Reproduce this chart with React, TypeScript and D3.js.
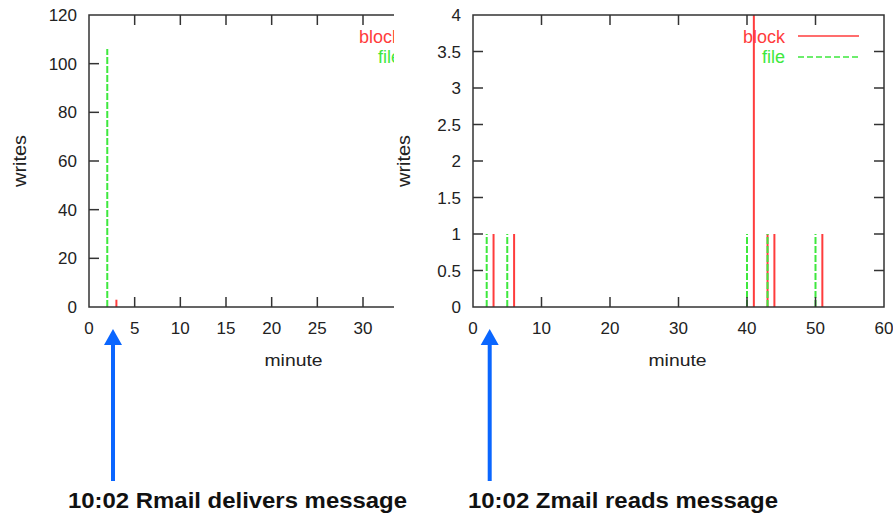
import React from "react";
import * as d3 from "d3";

// Rmail chart (left)
const rmailFile = [{ minute: 2, writes: 106 }];
const rmailBlock = [{ minute: 3, writes: 3 }];
const rmailXTicks = [0, 5, 10, 15, 20, 25, 30, 35, 40, 45];
const rmailYTicks = [0, 20, 40, 60, 80, 100, 120];

// Zmail chart (right)
const zmailFile = [
  { minute: 2, writes: 1 },
  { minute: 5, writes: 1 },
  { minute: 40, writes: 1 },
  { minute: 43, writes: 1 },
  { minute: 50, writes: 1 },
];
const zmailBlock = [
  { minute: 3, writes: 1 },
  { minute: 6, writes: 1 },
  { minute: 41, writes: 4 },
  { minute: 43, writes: 1 },
  { minute: 44, writes: 1 },
  { minute: 51, writes: 1 },
];
const zmailXTicks = [0, 10, 20, 30, 40, 50, 60];
const zmailYTicks = [0, 0.5, 1, 1.5, 2, 2.5, 3, 3.5, 4];

const captions = ["10:02 Rmail delivers message", "10:02 Zmail reads message"];

type Pt = { minute: number; writes: number };

const RED = "#ff3c3c";
const GREEN = "#3ee83e";
const AXIS = "#333";
const FONT = "'Liberation Sans', Arial, sans-serif";

function Plot({
  left,
  id,
  clipRight,
  xMax,
  yMax,
  xTicks,
  yTicks,
  file,
  block,
  arrowMinute,
  caption,
  captionX,
  captionWidth,
}: {
  left: number;
  id: string;
  clipRight: number;
  xMax: number;
  yMax: number;
  xTicks: number[];
  yTicks: number[];
  file: Pt[];
  block: Pt[];
  arrowMinute: number;
  caption: string;
  captionX: number;
  captionWidth: number;
}) {
  const top = 15;
  const bottom = 307;
  const w = 411;
  const x = d3.scaleLinear().domain([0, xMax]).range([left, left + w]);
  const y = d3.scaleLinear().domain([0, yMax]).range([bottom, top]);
  const tick = 10;
  const legendX = left + w - 99;
  const arrowX = x(arrowMinute) + 3;

  return (
    <g>
      <defs>
        <clipPath id={id}>
          <rect x={0} y={0} width={clipRight} height={380} />
        </clipPath>
      </defs>
      <g clipPath={`url(#${id})`}>
        {/* impulses */}
        {block.map((d, i) => (
          <line
            key={`b${i}`}
            x1={x(d.minute)}
            x2={x(d.minute)}
            y1={y(0)}
            y2={y(d.writes)}
            stroke={RED}
            strokeWidth={2}
          />
        ))}
        {file.map((d, i) => (
          <line
            key={`f${i}`}
            x1={x(d.minute)}
            x2={x(d.minute)}
            y1={y(0)}
            y2={y(d.writes)}
            stroke={GREEN}
            strokeWidth={2}
            strokeDasharray="7,2"
          />
        ))}

        {/* frame */}
        <rect
          x={left}
          y={top}
          width={w}
          height={bottom - top}
          fill="none"
          stroke={AXIS}
          strokeWidth={1.5}
        />

        {/* x ticks */}
        {xTicks.map((t) => (
          <g key={`x${t}`}>
            {t > 0 && t < xMax && (
              <>
                <line x1={x(t)} x2={x(t)} y1={bottom} y2={bottom - tick} stroke={AXIS} strokeWidth={1.5} />
                <line x1={x(t)} x2={x(t)} y1={top} y2={top + tick} stroke={AXIS} strokeWidth={1.5} />
              </>
            )}
            <text
              x={x(t)}
              y={334}
              textAnchor="middle"
              fontSize={17}
              fontFamily={FONT}
              fill="#222"
            >
              {t}
            </text>
          </g>
        ))}

        {/* y ticks */}
        {yTicks.map((t) => (
          <g key={`y${t}`}>
            {t > 0 && t < yMax && (
              <>
                <line x1={left} x2={left + tick} y1={y(t)} y2={y(t)} stroke={AXIS} strokeWidth={1.5} />
                <line x1={left + w} x2={left + w - tick} y1={y(t)} y2={y(t)} stroke={AXIS} strokeWidth={1.5} />
              </>
            )}
          </g>
        ))}

        {/* legend */}
        <text x={legendX} y={43} textAnchor="end" fontSize={18} fontFamily={FONT} fill={RED}>
          block
        </text>
        <line x1={legendX + 13} x2={legendX + 74} y1={36} y2={36} stroke={RED} strokeWidth={1.5} />
        <text x={legendX} y={63} textAnchor="end" fontSize={18} fontFamily={FONT} fill={GREEN}>
          file
        </text>
        <line
          x1={legendX + 13}
          x2={legendX + 74}
          y1={57}
          y2={57}
          stroke={GREEN}
          strokeWidth={1.5}
          strokeDasharray="6,3"
        />

        <text
          x={(left + left + w) / 2 - 30}
          y={366}
          fontSize={17}
          fontFamily={FONT}
          fill="#222"
          textLength={58}
          lengthAdjust="spacingAndGlyphs"
        >
          minute
        </text>
      </g>

      {/* y tick labels */}
      {yTicks.map((t) => (
        <text
          key={`yl${t}`}
          x={left - 12}
          y={y(t)}
          dy="0.36em"
          textAnchor="end"
          fontSize={17}
          fontFamily={FONT}
          fill="#222"
        >
          {t}
        </text>
      ))}
      <text
        transform={`translate(${left - 63},187) rotate(-90)`}
        fontSize={18}
        fontFamily={FONT}
        fill="#222"
        textLength={52}
        lengthAdjust="spacingAndGlyphs"
      >
        writes
      </text>

      {/* arrow */}
      <line x1={arrowX} x2={arrowX} y1={342} y2={481} stroke="#0a66ff" strokeWidth={4} />
      <path
        d={`M${arrowX},329 L${arrowX - 9},345 L${arrowX + 9},345 Z`}
        fill="#0a66ff"
      />

      <text
        x={captionX}
        y={508}
        fontSize={22}
        fontWeight="bold"
        fontFamily={FONT}
        fill="#111"
        textLength={captionWidth}
        lengthAdjust="spacingAndGlyphs"
      >
        {caption}
      </text>
    </g>
  );
}

export default function App() {
  return (
    <svg width={893} height={513} style={{ display: "block", position: "absolute", left: 0, top: 0 }}>
      <rect width={893} height={513} fill="#fff" />
      <Plot
        left={89}
        id="clipL"
        clipRight={394}
        xMax={45}
        yMax={120}
        xTicks={rmailXTicks}
        yTicks={rmailYTicks}
        file={rmailFile}
        block={rmailBlock}
        arrowMinute={2.3}
        caption={captions[0]}
        captionX={68}
        captionWidth={339}
      />
      <Plot
        left={473}
        id="clipR"
        clipRight={893}
        xMax={60}
        yMax={4}
        xTicks={zmailXTicks}
        yTicks={zmailYTicks}
        file={zmailFile}
        block={zmailBlock}
        arrowMinute={2.0}
        caption={captions[1]}
        captionX={468}
        captionWidth={310}
      />
    </svg>
  );
}
